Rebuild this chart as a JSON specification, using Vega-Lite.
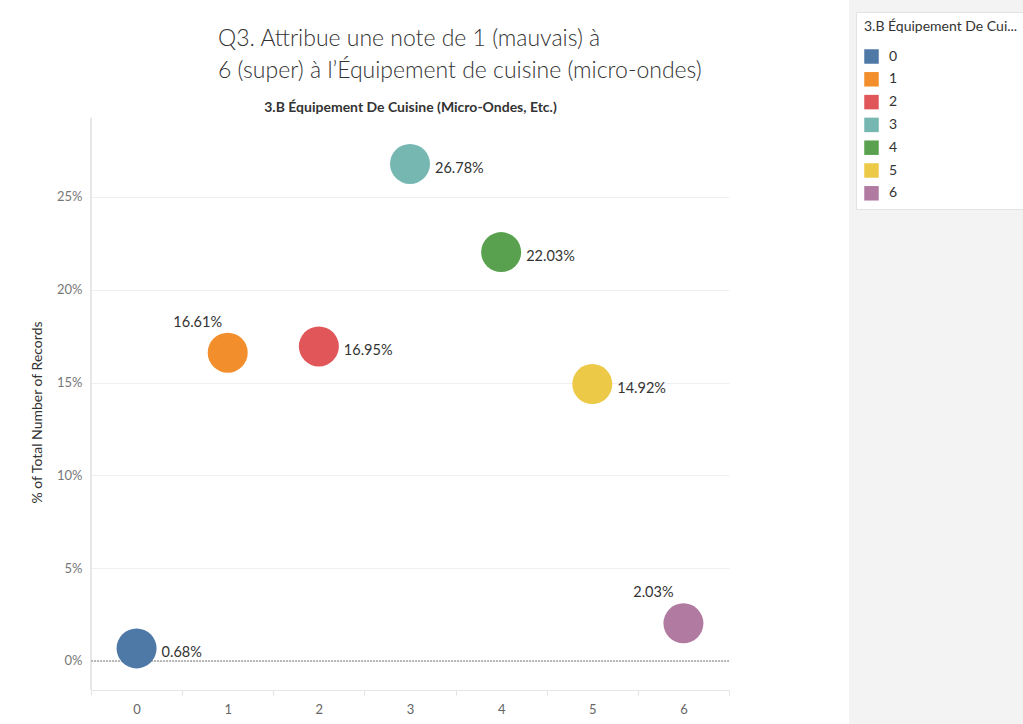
{
  "$schema": "https://vega.github.io/schema/vega-lite/v6.json",
  "padding": {"left": 30, "top": 0, "right": 0, "bottom": 0},
  "background": "white",
  "spacing": 119,
  "config": {"font": "Lato", "view": {"stroke": null}},
  "datasets": {
    "scores": [
      {"Note": 0, "Pct": 0.0068},
      {"Note": 1, "Pct": 0.1661},
      {"Note": 2, "Pct": 0.1695},
      {"Note": 3, "Pct": 0.2678},
      {"Note": 4, "Pct": 0.2203},
      {"Note": 5, "Pct": 0.1492},
      {"Note": 6, "Pct": 0.0203}
    ]
  },
  "resolve": {"scale": {"color": "independent"}, "legend": {"color": "independent"}},
  "hconcat": [
    {
      "width": 638,
      "height": 690,
      "data": {"name": "scores"},
      "title": {
        "text": ["Q3. Attribue une note de 1 (mauvais) à", "6 (super) à l’Équipement de cuisine (micro-ondes)"],
        "font": "Lato",
        "fontSize": 23,
        "fontWeight": 300,
        "color": "#333333",
        "anchor": "start",
        "frame": "group",
        "align": "left",
        "baseline": "bottom",
        "dx": 127,
        "lineHeight": 32,
        "offset": -106
      },
      "resolve": {"axis": {"x": "independent"}},
      "layer": [
        {
          "mark": {"type": "rule", "color": "#e6e6e6", "strokeWidth": 1},
          "encoding": {
            "x": {"datum": 0, "type": "nominal", "bandPosition": 0, "axis": null},
            "y": {"datum": 0.2926, "type": "quantitative"},
            "y2": {"datum": -0.015625}
          }
        },
        {
          "mark": {"type": "rule", "color": "#b5b5b5", "strokeDash": [1.5, 1.5], "strokeWidth": 1},
          "encoding": {"y": {"datum": 0, "type": "quantitative"}}
        },
        {
          "mark": {"type": "circle", "size": 1600, "opacity": 1},
          "encoding": {
            "x": {
              "field": "Note", "type": "nominal",
              "scale": {"type": "band", "paddingInner": 0, "paddingOuter": 0},
              "axis": {
                "orient": "bottom", "title": null, "labelAngle": 0,
                "tickBand": "extent", "ticks": true, "tickColor": "#e3e3e3", "tickSize": 5,
                "domain": true, "domainColor": "#e6e6e6", "grid": false,
                "labelColor": "#666666", "labelFontSize": 13, "labelPadding": 8
              }
            },
            "y": {
              "field": "Pct", "type": "quantitative",
              "scale": {"domain": [-0.015625, 0.35614], "nice": false, "zero": false},
              "axis": {
                "values": [0, 0.05, 0.1, 0.15, 0.2, 0.25], "format": ".0%",
                "title": "% of Total Number of Records", "titleFontSize": 14, "titleFontWeight": "normal",
                "titleColor": "#333333", "titlePadding": 12, "titleY": 412,
                "labelColor": "#777777", "labelFontSize": 13, "labelPadding": 9,
                "ticks": false, "domain": false,
                "grid": true, "gridColor": "#efefef"
              }
            },
            "color": {
              "field": "Note", "type": "nominal", "legend": null,
              "scale": {"domain": [0, 1, 2, 3, 4, 5, 6], "range": ["#4e79a7", "#f28e2b", "#e15759", "#76b7b2", "#59a14f", "#edc948", "#b07aa1"]}
            }
          }
        },
        {
          "transform": [{"filter": "datum.Note != 1 && datum.Note != 6"}],
          "mark": {"type": "text", "align": "left", "baseline": "middle", "dx": 25, "dy": 5, "fontSize": 14.5, "color": "#333333"},
          "encoding": {
            "x": {"field": "Note", "type": "nominal", "axis": null},
            "y": {"field": "Pct", "type": "quantitative"},
            "text": {"field": "Pct", "type": "quantitative", "format": ".2%"}
          }
        },
        {
          "transform": [{"filter": "datum.Note == 1 || datum.Note == 6"}],
          "mark": {"type": "text", "align": "center", "baseline": "middle", "dx": -30, "dy": -30, "fontSize": 14.5, "color": "#333333"},
          "encoding": {
            "x": {
              "field": "Note", "type": "nominal",
              "axis": {
                "orient": "top", "title": "3.B Équipement De Cuisine (Micro-Ondes, Etc.)",
                "titleFontSize": 14, "titleFontWeight": "bold", "titleColor": "#333333",
                "titleY": 107, "titleBaseline": "middle",
                "labels": false, "ticks": false, "domain": false, "grid": false
              }
            },
            "y": {"field": "Pct", "type": "quantitative"},
            "text": {"field": "Pct", "type": "quantitative", "format": ".2%"}
          }
        }
      ]
    },
    {
      "width": 180,
      "height": 724,
      "view": {"fill": "#f3f3f3", "stroke": null},
      "data": {"name": "scores"},
      "mark": {"type": "square", "opacity": 0},
      "encoding": {
        "color": {
          "field": "Note", "type": "nominal",
          "scale": {"domain": [0, 1, 2, 3, 4, 5, 6], "range": ["#4e79a7", "#f28e2b", "#e15759", "#76b7b2", "#59a14f", "#edc948", "#b07aa1"]},
          "legend": {
            "title": "3.B Équipement De Cui...",
            "orient": "none", "legendX": 7, "legendY": 12,
            "fillColor": "white", "strokeColor": "#e3e3e3", "padding": 8,
            "titleFontSize": 14, "titleFontWeight": "normal", "titleColor": "#333333", "titlePadding": 15,
            "labelFontSize": 14, "labelColor": "#333333", "labelOffset": 10,
            "symbolType": "square", "symbolSize": 210, "symbolOpacity": 1, "symbolStrokeWidth": 0,
            "rowPadding": 7.8
          }
        }
      }
    }
  ]
}
